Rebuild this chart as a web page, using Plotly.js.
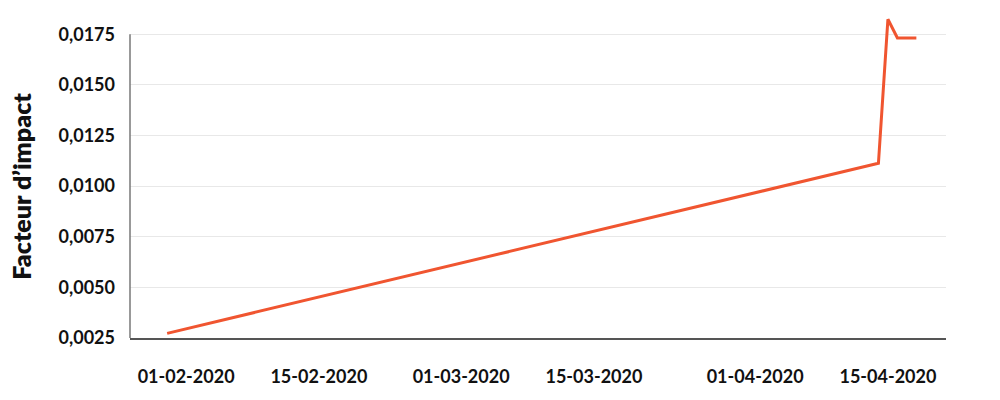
<!DOCTYPE html>
<html>
<head>
<meta charset="utf-8">
<script src="https://cdn.plot.ly/plotly-3.0.1.min.js"></script>
<style>html,body{margin:0;padding:0;background:#fff;}#chart{width:1000px;height:400px;}</style>
</head>
<body>
<div id="chart"></div>
<script>
const dates = ["2020-01-30", "2020-04-14", "2020-04-15", "2020-04-16", "2020-04-18"];
const impact = [0.00273, 0.01113, 0.01824, 0.01732, 0.01732];
const tickDates = ["2020-02-01", "2020-02-15", "2020-03-01", "2020-03-15", "2020-04-01", "2020-04-15"];
const tickLabels = ["01-02-2020", "15-02-2020", "01-03-2020", "15-03-2020", "01-04-2020", "15-04-2020"];
const yTicks = [0.0025, 0.005, 0.0075, 0.01, 0.0125, 0.015, 0.0175];
const yTitle = "Facteur d’impact";

const font = {family: "Lato, 'DejaVu Sans', sans-serif", size: 18, color: "#111", weight: 700};

const trace = {
  x: dates, y: impact, type: "scatter", mode: "lines",
  line: {color: "#f05530", width: 3},
  hoverinfo: "x+y"
};

const layout = {
  width: 1000, height: 400,
  margin: {l: 130, r: 54, t: 14, b: 62},
  paper_bgcolor: "#fff", plot_bgcolor: "#fff",
  separators: ", ",
  showlegend: false,
  font: font,
  xaxis: {
    type: "date",
    range: ["2020-01-26 02:00", "2020-04-21 03:00"],
    tickvals: tickDates, ticktext: tickLabels,
    showgrid: false, zeroline: false,
    showline: true, linecolor: "#555", linewidth: 1.5,
    ticks: "", ticklabelstandoff: 22,
    tickfont: font
  },
  yaxis: {
    range: [0.0025, 0.0185],
    tickvals: yTicks, tickformat: ".4f",
    showgrid: true, gridcolor: "#e8e8e8", gridwidth: 1,
    zeroline: false, showline: false,
    ticks: "", ticklabelstandoff: 14,
    tickfont: font
  },
  shapes: [{
    type: "line", xref: "paper", yref: "y",
    x0: 0, x1: 0, y0: yTicks[0], y1: yTicks[yTicks.length - 1],
    line: {color: "#777", width: 1.5}, layer: "above"
  }],
  annotations: [{
    text: yTitle, xref: "paper", yref: "y",
    x: -0.134, y: (yTicks[0] + yTicks[yTicks.length - 1]) / 2,
    xanchor: "center", yanchor: "middle", textangle: -90,
    showarrow: false,
    font: {family: "Lato, 'DejaVu Sans', sans-serif", size: 25, color: "#111", weight: 800}
  }]
};

Plotly.newPlot("chart", [trace], layout, {displayModeBar: false, staticPlot: true});
</script>
</body>
</html>
